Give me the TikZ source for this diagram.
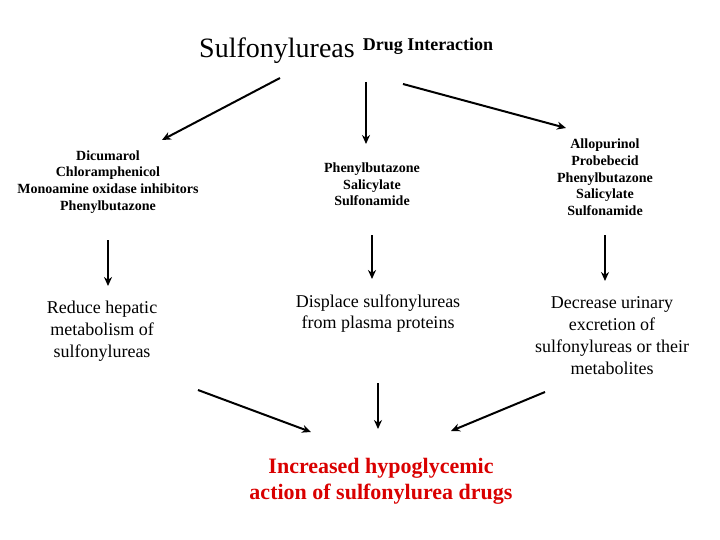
\documentclass[tikz,border=0pt]{standalone}
\usepackage{fontspec}
\setmainfont{Liberation Serif}
\usetikzlibrary{arrows.meta}
\begin{document}
\begin{tikzpicture}[x=1pt,y=-1pt,
  arr/.style={line width=2pt,-{Stealth[length=9pt,width=8pt]}},
  lst/.style={font=\fontsize{14}{16.7}\selectfont\bfseries,align=center,inner sep=0},
  mid/.style={font=\fontsize{18}{21.8}\selectfont,align=center,inner sep=0},
  res/.style={font=\fontsize{22}{26}\selectfont\bfseries,align=center,inner sep=0,text=red!85!black}]
\useasboundingbox (0,0) rectangle (720,540);
\node[font=\fontsize{28}{30}\selectfont,inner sep=0] (t) at (277,51) {Sulfonylureas};
\node[font=\fontsize{18}{20}\selectfont\bfseries,inner sep=0] (ts) at (428,46) {Drug Interaction};
\node[lst] (l1) at (108,182) {Dicumarol\\Chloramphenicol\\Monoamine oxidase inhibitors\\Phenylbutazone};
\node[lst] (m1) at (372,184.5) {Phenylbutazone\\Salicylate\\Sulfonamide};
\node[lst] (r1) at (605,177.5) {Allopurinol\\Probebecid\\Phenylbutazone\\Salicylate\\Sulfonamide};
\node[mid] (l2) at (102,331) {Reduce hepatic\\metabolism of\\sulfonylureas};
\node[mid] (m2) at (378,313.5) {Displace sulfonylureas\\from plasma proteins};
\node[mid] (r2) at (612,335.5) {Decrease urinary\\excretion of\\sulfonylureas or their\\metabolites};
\node[res] (b) at (381,481) {Increased hypoglycemic\\action of sulfonylurea drugs};
\coordinate (a1s) at (280,78); \coordinate (a1e) at (162,140);
\coordinate (a2s) at (366,82); \coordinate (a2e) at (366,144);
\coordinate (a3s) at (403,84); \coordinate (a3e) at (566,128);
\coordinate (a4s) at (108,240); \coordinate (a4e) at (108,286);
\coordinate (a5s) at (372,235); \coordinate (a5e) at (372,279);
\coordinate (a6s) at (605,235); \coordinate (a6e) at (605,281);
\coordinate (a7s) at (198,390); \coordinate (a7e) at (311,432);
\coordinate (a8s) at (378,383); \coordinate (a8e) at (378,429);
\coordinate (a9s) at (545,392); \coordinate (a9e) at (451,431);
\foreach \i in {1,...,9} \draw[arr] (a\i s) -- (a\i e);
\end{tikzpicture}
\end{document}
